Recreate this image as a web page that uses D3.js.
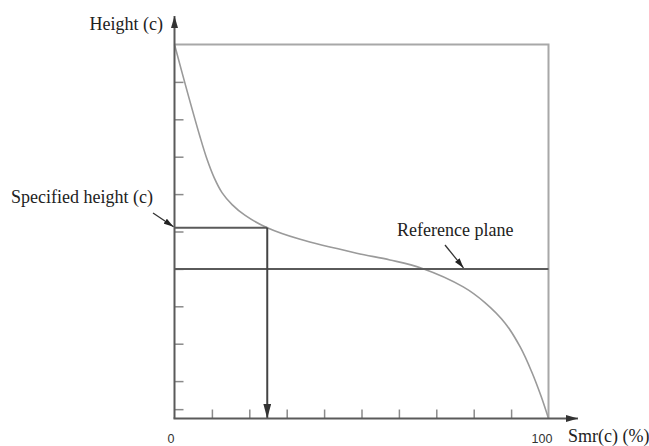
<!DOCTYPE html>
<html>
<head>
<meta charset="utf-8">
<script src="https://cdn.jsdelivr.net/npm/d3@7"></script>
<style>
  html, body { margin: 0; padding: 0; background: #fff; }
  svg { display: block; }
  .serif { font-family: "Liberation Serif", "Times New Roman", serif; font-size: 18px; fill: #222; }
  .sans { font-family: "Liberation Sans", Arial, sans-serif; font-size: 12.5px; fill: #333; }
</style>
</head>
<body>
<svg id="chart" width="649" height="446"></svg>
<script>
// Material ratio curve: Smr(c) in percent against section height (percent of full height)
const smrPct = [0, 3.3, 6.8, 8.7, 10.6, 12.7, 15.4, 18.9, 24.8, 33.6, 48.7, 57.6, 66.1, 77.2, 83.0, 88.4, 92.5, 95.5, 98.0, 100];
const heightPct = [100, 87.8, 75.4, 69.3, 64.4, 60.4, 57.2, 54.3, 51.0, 47.9, 44.2, 42.4, 40.2, 35.2, 31.0, 25.5, 19.0, 12.5, 6.0, 0];

// Axis tick positions and end labels
const xTickValues = [10, 20, 30, 40, 50, 60, 70, 80, 90];
const yTickValues = [2.5, 10, 20, 30, 40, 50, 60, 70, 80, 90];
const xEndLabels = [0, 100];

// Reference plane and specified height
const referencePlane = 40;
const specifiedHeight = 51.0;
const specifiedSmr = 24.8;

// Text
const yTitle = "Height (c)";
const xTitle = "Smr(c) (%)";
const specifiedLabel = "Specified height (c)";
const referenceLabel = "Reference plane";

const svg = d3.select("#chart");
const x = d3.scaleLinear().domain([0, 100]).range([174.5, 548.5]);
const y = d3.scaleLinear().domain([0, 100]).range([418.5, 44.5]);

const axisColor = "#5a5a5a";
const defs = svg.append("defs");
function marker(id, w, h, color) {
  defs.append("marker")
    .attr("id", id)
    .attr("viewBox", `0 0 ${w} ${h}`)
    .attr("refX", w).attr("refY", h / 2)
    .attr("markerWidth", w).attr("markerHeight", h)
    .attr("markerUnits", "userSpaceOnUse")
    .attr("orient", "auto")
    .append("path")
    .attr("d", `M0,0L${w},${h / 2}L0,${h}Z`)
    .attr("fill", color);
}
marker("axisHead", 12, 7, "#333");
marker("bigHead", 15, 8, "#333");
marker("smallHead", 10, 6, "#222");

// Box: top and right edges
svg.append("path")
  .attr("d", `M${x(0)},${y(100)}H${x(100)}V${y(0)}`)
  .attr("fill", "none").attr("stroke", "#a8a8a8").attr("stroke-width", 2);

// Ticks via d3 axes (inward, no labels)
const xAxis = svg.append("g").attr("transform", `translate(0,${y(0)})`)
  .call(d3.axisBottom(x).tickValues(xTickValues).tickSizeInner(-9).tickSizeOuter(0).tickFormat(""));
const yAxis = svg.append("g").attr("transform", `translate(${x(0)},0)`)
  .call(d3.axisLeft(y).tickValues(yTickValues).tickSizeInner(-9).tickSizeOuter(0).tickFormat(""));
[xAxis, yAxis].forEach(g => {
  g.select(".domain").remove();
  g.selectAll(".tick line").attr("stroke", "#8a8a8a").attr("stroke-width", 1.5);
});

// Material ratio curve
const line = d3.line().x((d, i) => x(smrPct[i])).y(d => y(d)).curve(d3.curveCatmullRom.alpha(0.5));
svg.append("path")
  .attr("d", line(heightPct))
  .attr("fill", "none").attr("stroke", "#9a9a9a").attr("stroke-width", 1.6);

// Reference plane
svg.append("line")
  .attr("x1", x(0)).attr("x2", x(100))
  .attr("y1", y(referencePlane)).attr("y2", y(referencePlane))
  .attr("stroke", axisColor).attr("stroke-width", 2);

// Specified height line and drop arrow to Smr axis
svg.append("line")
  .attr("x1", x(0)).attr("x2", x(specifiedSmr))
  .attr("y1", y(specifiedHeight)).attr("y2", y(specifiedHeight))
  .attr("stroke", axisColor).attr("stroke-width", 2);
svg.append("line")
  .attr("x1", x(specifiedSmr)).attr("x2", x(specifiedSmr))
  .attr("y1", y(specifiedHeight)).attr("y2", y(0))
  .attr("stroke", "#444").attr("stroke-width", 2)
  .attr("marker-end", "url(#bigHead)");

// Axes with arrows
svg.append("line")
  .attr("x1", x(0)).attr("y1", y(0)).attr("x2", x(0)).attr("y2", 16)
  .attr("stroke", axisColor).attr("stroke-width", 2)
  .attr("marker-end", "url(#axisHead)");
svg.append("line")
  .attr("x1", x(0) - 1).attr("y1", y(0)).attr("x2", 578).attr("y2", y(0))
  .attr("stroke", axisColor).attr("stroke-width", 2)
  .attr("marker-end", "url(#axisHead)");

// Axis titles and end labels
svg.append("text").attr("class", "serif")
  .attr("x", 163).attr("y", 30).attr("text-anchor", "end").text(yTitle);
svg.append("text").attr("class", "serif")
  .attr("x", 568).attr("y", 442).text(xTitle);
svg.selectAll("text.endLabel").data(xEndLabels).enter().append("text")
  .attr("class", "sans endLabel")
  .attr("x", d => x(d) - (d === 0 ? 3.5 : 6.5))
  .attr("y", 442.5)
  .attr("text-anchor", "middle")
  .text(d => d);

// Callouts
svg.append("text").attr("class", "serif")
  .attr("x", 11).attr("y", 203).text(specifiedLabel);
svg.append("line")
  .attr("x1", 153).attr("y1", 213).attr("x2", x(0) - 1).attr("y2", y(specifiedHeight) - 1)
  .attr("stroke", "#333").attr("stroke-width", 1.3)
  .attr("marker-end", "url(#smallHead)");

svg.append("text").attr("class", "serif")
  .attr("x", 397).attr("y", 236).text(referenceLabel);
svg.append("line")
  .attr("x1", 445).attr("y1", 245).attr("x2", 463.5).attr("y2", y(referencePlane) - 1)
  .attr("stroke", "#333").attr("stroke-width", 1.3)
  .attr("marker-end", "url(#smallHead)");
</script>
</body>
</html>
